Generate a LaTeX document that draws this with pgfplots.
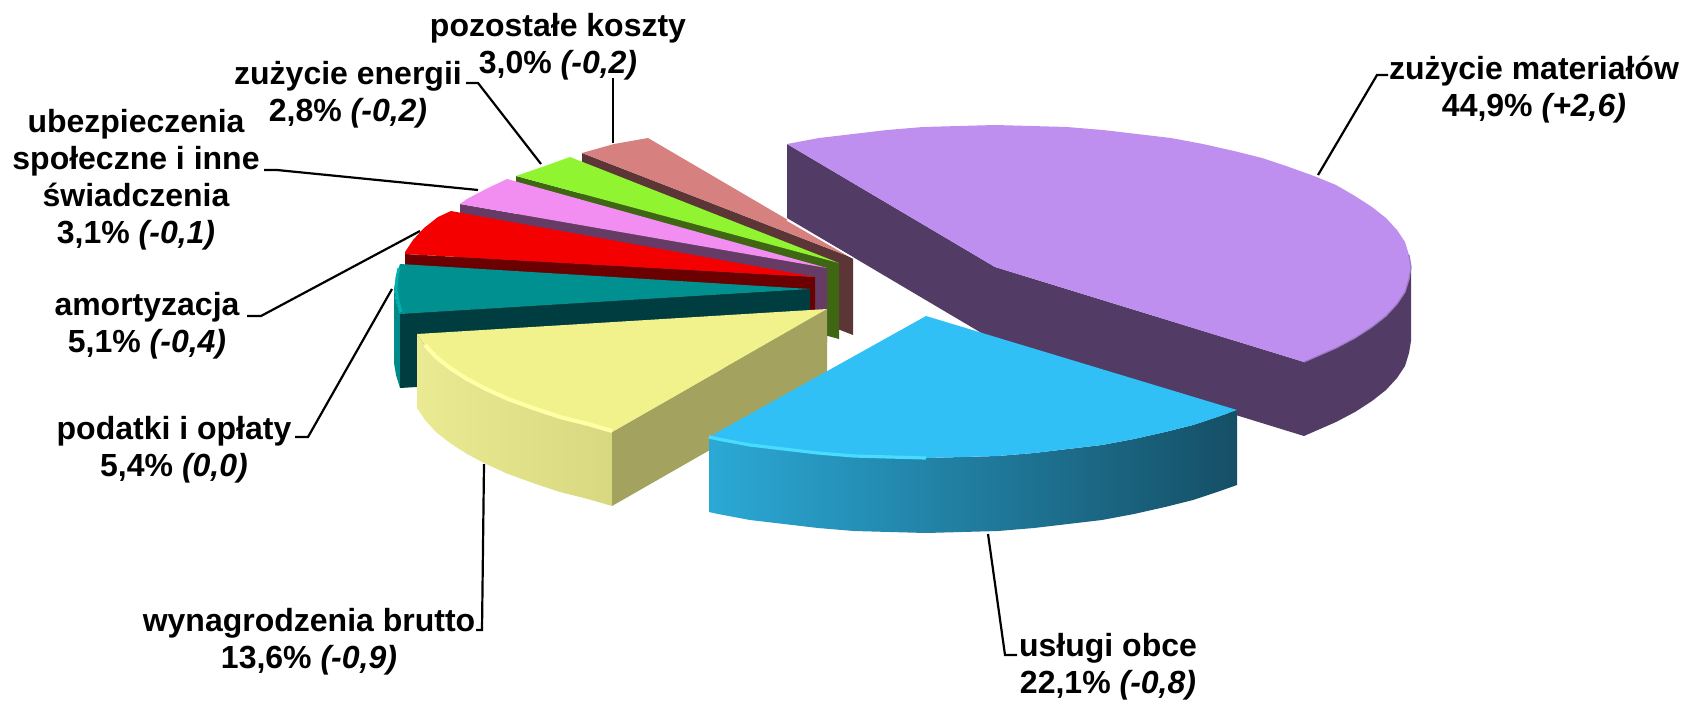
\documentclass[border=0pt]{standalone}
\usepackage{fontspec}
\setmainfont{Liberation Sans}
\usepackage{pgfplots}
\pgfplotsset{compat=1.18}
\definecolor{puT}{HTML}{BF8FF0}\definecolor{puW}{HTML}{523C66}\definecolor{puE}{HTML}{9C7AC4}
\definecolor{blT}{HTML}{30C0F5}\definecolor{blA}{HTML}{2BA9D6}\definecolor{blB}{HTML}{1F7FA0}\definecolor{blC}{HTML}{154F66}\definecolor{blH}{HTML}{4ADCFF}
\definecolor{yeT}{HTML}{F2F28C}\definecolor{yeA}{HTML}{EAEA92}\definecolor{yeC}{HTML}{D8D880}\definecolor{yeW}{HTML}{A3A35F}\definecolor{yeH}{HTML}{FFFFA8}
\definecolor{teT}{HTML}{009090}\definecolor{teW}{HTML}{003D40}\definecolor{teO}{HTML}{008A8A}\definecolor{teH}{HTML}{00B0B0}
\definecolor{reT}{HTML}{F50000}\definecolor{reW}{HTML}{6B0000}
\definecolor{piT}{HTML}{F28EF2}\definecolor{piW}{HTML}{663C66}
\definecolor{grT}{HTML}{90F530}\definecolor{grW}{HTML}{3F6612}
\definecolor{saT}{HTML}{D68080}\definecolor{saW}{HTML}{5C3636}
\newcommand{\lab}[3]{\node[align=center,inner sep=0pt,font=\fontsize{16}{18.5}\selectfont\bfseries] at (axis cs:#1,#2) {#3};}
\begin{document}
\begin{tikzpicture}
\begin{axis}[
  hide axis, scale only axis, width=842pt, height=350pt,
  xmin=0, xmax=1684, ymin=0, ymax=700, y dir=reverse, clip=false, no markers]
\path (axis cs:0,0) rectangle (axis cs:1684,700);
% purple
\addplot[fill=puW,draw=none] coordinates {(787,144)(995,267)(1304,362)(1304,436)(995,341)(787,218)} --cycle;
\addplot[fill=puW,draw=none] coordinates {(1411,267)(1409,279)(1405,292)(1397,304)(1386,316)(1372,327)(1355,338)(1336,348)(1304,362)(1304,436)(1336,422)(1355,412)(1372,401)(1386,390)(1397,378)(1405,366)(1409,353)(1411,341)} --cycle;
\addplot[fill=puT,draw=none] coordinates {(787,144)(819,138)(853,134)(887,130)(923,127)(959,126)(995,125)(1031,126)(1067,127)(1103,130)(1137,134)(1171,138)(1203,144)(1234,151)(1262,158)(1289,167)(1314,176)(1336,185)(1355,196)(1372,207)(1386,218)(1397,230)(1405,242)(1409,255)(1411,267)(1409,279)(1405,292)(1397,304)(1386,316)(1372,327)(1355,338)(1336,348)(1304,362)(995,267)} --cycle;
\addplot[puE,line width=0.6pt] coordinates {(1409,255)(1411,267)(1409,279)(1405,292)(1397,304)(1386,316)(1372,327)(1355,338)(1336,348)(1304,362)};
% salmon
\addplot[fill=saW,draw=none] coordinates {(582,153)(853,258)(853,335)(582,230)} --cycle;
\addplot[fill=saT,draw=none] coordinates {(853,258)(648,138)(614,144)(582,153)} --cycle;
\addplot[white,line width=0.7pt] coordinates {(787,220)(853,258)};
% green
\addplot[fill=grW,draw=none] coordinates {(516,176)(839,263)(839,339)(516,251)} --cycle;
\addplot[fill=grT,draw=none] coordinates {(839,263)(570,157)(545,166)(516,176)} --cycle;
% pink
\addplot[fill=piW,draw=none] coordinates {(460,204)(827,268)(827,342)(460,278)} --cycle;
\addplot[fill=piT,draw=none] coordinates {(827,268)(507,179)(486,189)(467,199)(460,204)} --cycle;
% red
\addplot[fill=reW,draw=none] coordinates {(405,254)(815,277)(815,351)(405,328)} --cycle;
\addplot[fill=reT,draw=none] coordinates {(815,277)(451,211)(438,217)(424,228)(413,240)(405,252)(405,254)} --cycle;
% teal
\addplot[fill=teO,draw=none] coordinates {(394,289)(396,301)(400,314)(400,388)(396,375)(394,363)} --cycle;
\addplot[fill=teW,draw=none] coordinates {(400,314)(810,289)(810,363)(400,388)} --cycle;
\addplot[fill=teT,draw=none] coordinates {(810,289)(400,264)(396,277)(394,289)(396,301)(400,314)} --cycle;
\addplot[teH,line width=1.4pt] coordinates {(399,268)(397,277)(396,289)(398,301)(401,312)};
% yellow
\addplot[fill=yeW,draw=none] coordinates {(612,432)(827,309)(827,383)(612,506)} --cycle;
\addplot[draw=none,left color=yeA,right color=yeC] coordinates {(417,334)(425,346)(436,358)(450,369)(467,380)(486,390)(508,400)(533,409)(560,418)(588,425)(612,432)(612,506)(588,499)(560,492)(533,483)(508,474)(486,464)(467,454)(450,443)(436,432)(425,420)(417,408)} --cycle;
\addplot[fill=yeT,draw=none] coordinates {(827,309)(612,432)(588,425)(560,418)(533,409)(508,400)(486,390)(467,380)(450,369)(436,358)(425,346)(417,334)} --cycle;
\addplot[yeH,line width=2pt] coordinates {(612,431)(588,424)(560,417)(533,408)(508,399)(486,389)(467,379)(450,368)(436,357)(425,345)};
% blue
\addplot[draw=none,left color=blA,middle color=blB,right color=blC] coordinates {(709,437)(718,439)(750,445)(784,449)(818,453)(854,456)(890,457)(926,458)(962,457)(998,456)(1034,453)(1068,449)(1102,445)(1134,439)(1165,432)(1193,425)(1220,416)(1237,410)(1237,485)(1220,491)(1193,500)(1165,507)(1134,514)(1102,520)(1068,524)(1034,528)(998,531)(962,532)(926,533)(890,532)(854,531)(818,528)(784,524)(750,520)(718,514)(709,512)} --cycle;
\addplot[fill=blT,draw=none] coordinates {(926,316)(1237,410)(1220,416)(1193,425)(1165,432)(1134,439)(1102,445)(1068,449)(1034,453)(998,456)(962,457)(926,458)(890,457)(854,456)(818,453)(784,449)(750,445)(718,439)(709,437)} --cycle;
\addplot[blH,line width=1.6pt] coordinates {(709,437)(718,439)(750,445)(784,449)(818,453)(854,456)(890,457)(926,458)};
% leader lines
\addplot[black,line width=1.1pt] coordinates {(613,78)(613,143)};
\addplot[black,line width=1.1pt] coordinates {(466,83)(478,83)(541,164)};
\addplot[black,line width=1.1pt] coordinates {(264,170)(277,170)(478,190)};
\addplot[black,line width=1.1pt] coordinates {(247,316)(261,316)(420,231)};
\addplot[black,line width=1.1pt] coordinates {(295,437)(308,437)(392,289)};
\addplot[black,line width=1.1pt] coordinates {(476,630)(482,630)(484,464)};
\addplot[black,line width=1.1pt] coordinates {(1017,655)(1005,655)(988,534)};
\addplot[black,line width=1.1pt] coordinates {(1388,75)(1377,75)(1318,175)};
% labels
\lab{558}{47}{pozostałe koszty\\3,0\% \textit{(-0,2)}}
\lab{348}{95}{zużycie energii\\2,8\% \textit{(-0,2)}}
\lab{136}{180}{ubezpieczenia\\społeczne i inne\\świadczenia\\3,1\% \textit{(-0,1)}}
\lab{147}{326}{amortyzacja\\5,1\% \textit{(-0,4)}}
\lab{174}{450}{podatki i opłaty\\5,4\% \textit{(0,0)}}
\lab{309}{642}{wynagrodzenia brutto\\13,6\% \textit{(-0,9)}}
\lab{1108}{667}{usługi obce\\22,1\% \textit{(-0,8)}}
\lab{1534}{90}{zużycie materiałów\\44,9\% \textit{(+2,6)}}
\end{axis}
\end{tikzpicture}
\end{document}
